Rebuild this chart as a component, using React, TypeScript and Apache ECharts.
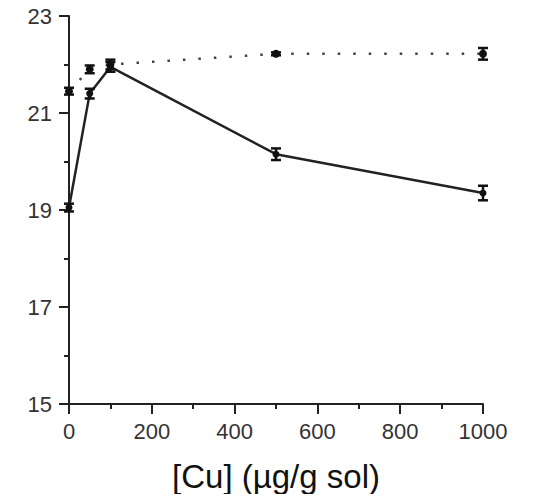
import React, { useEffect, useRef } from "react";
import * as echarts from "echarts";

const concentrations = [0, 50, 100, 500, 1000];
const solidValues = [19.05, 21.4, 21.95, 20.15, 19.35];
const solidErrors = [0.08, 0.1, 0.1, 0.12, 0.15];
const dottedValues = [21.45, 21.9, 22.0, 22.22, 22.22];
const dottedErrors = [0.07, 0.08, 0.1, 0.03, 0.12];
const xTickValues = [0, 200, 400, 600, 800, 1000];
const yTickValues = [15, 17, 19, 21, 23];
const xAxisTitle = "[Cu] (µg/g sol)";

const FONT = "'Liberation Sans', Arial, sans-serif";

function errorData(values: number[], errors: number[]) {
  return concentrations.map((x, i) => [x, values[i] - errors[i], values[i] + errors[i]]);
}

function renderErrorBar(params: any, api: any) {
  const x = api.value(0);
  const lo = api.coord([x, api.value(1)]);
  const hi = api.coord([x, api.value(2)]);
  const hw = 5;
  const style = { stroke: "#111", lineWidth: 2.5 };
  return {
    type: "group",
    children: [
      { type: "line", shape: { x1: lo[0], y1: lo[1], x2: hi[0], y2: hi[1] }, style },
      { type: "line", shape: { x1: lo[0] - hw, y1: lo[1], x2: lo[0] + hw, y2: lo[1] }, style },
      { type: "line", shape: { x1: hi[0] - hw, y1: hi[1], x2: hi[0] + hw, y2: hi[1] }, style },
    ],
  };
}

export default function App() {
  const ref = useRef<HTMLDivElement>(null);
  useEffect(() => {
    if (!ref.current) return;
    const chart = echarts.init(ref.current, null, { renderer: "svg" });
    chart.setOption({
      animation: false,
      backgroundColor: "#fff",
      grid: { left: 69, right: 58, top: 16, bottom: 98, containLabel: false },
      xAxis: {
        type: "value",
        min: xTickValues[0],
        max: xTickValues[xTickValues.length - 1],
        interval: 200,
        splitLine: { show: false },
        axisLine: { show: true, onZero: false, lineStyle: { color: "#222", width: 2 } },
        axisTick: { show: true, length: 10, lineStyle: { color: "#222", width: 2 } },
        minorTick: { show: true, splitNumber: 2, length: 5, lineStyle: { color: "#222", width: 2 } },
        axisLabel: {
          color: "#333",
          fontSize: 22,
          fontFamily: FONT,
          margin: 16,
          formatter: (v: number) => String(v),
        },
        name: xAxisTitle,
        nameLocation: "middle",
        nameGap: 56,
        nameTextStyle: { color: "#111", fontSize: 33, fontFamily: FONT },
      },
      yAxis: {
        type: "value",
        min: yTickValues[0],
        max: yTickValues[yTickValues.length - 1],
        interval: 2,
        splitLine: { show: false },
        axisLine: { show: true, onZero: false, lineStyle: { color: "#222", width: 2 } },
        axisTick: { show: true, length: 10, lineStyle: { color: "#222", width: 2 } },
        minorTick: { show: true, splitNumber: 2, length: 5, lineStyle: { color: "#222", width: 2 } },
        axisLabel: { color: "#333", fontSize: 22, fontFamily: FONT, margin: 17 },
      },
      series: [
        {
          type: "line",
          data: concentrations.map((x, i) => [x, solidValues[i]]),
          symbol: "circle",
          symbolSize: 7,
          itemStyle: { color: "#111" },
          lineStyle: { color: "#222", width: 2.5, type: "solid" },
          z: 3,
        },
        {
          type: "line",
          data: concentrations.map((x, i) => [x, dottedValues[i]]),
          symbol: "circle",
          symbolSize: 8,
          itemStyle: { color: "#111" },
          lineStyle: { color: "#444", width: 2.5, type: [2.5, 13] },
          z: 3,
        },
        {
          type: "custom",
          renderItem: renderErrorBar,
          data: errorData(solidValues, solidErrors),
          encode: { x: 0, y: [1, 2] },
          z: 4,
        },
        {
          type: "custom",
          renderItem: renderErrorBar,
          data: errorData(dottedValues, dottedErrors),
          encode: { x: 0, y: [1, 2] },
          z: 4,
        },
      ],
    });
    return () => chart.dispose();
  }, []);
  return <div ref={ref} style={{ width: 541, height: 502, margin: -8 }} />;
}
